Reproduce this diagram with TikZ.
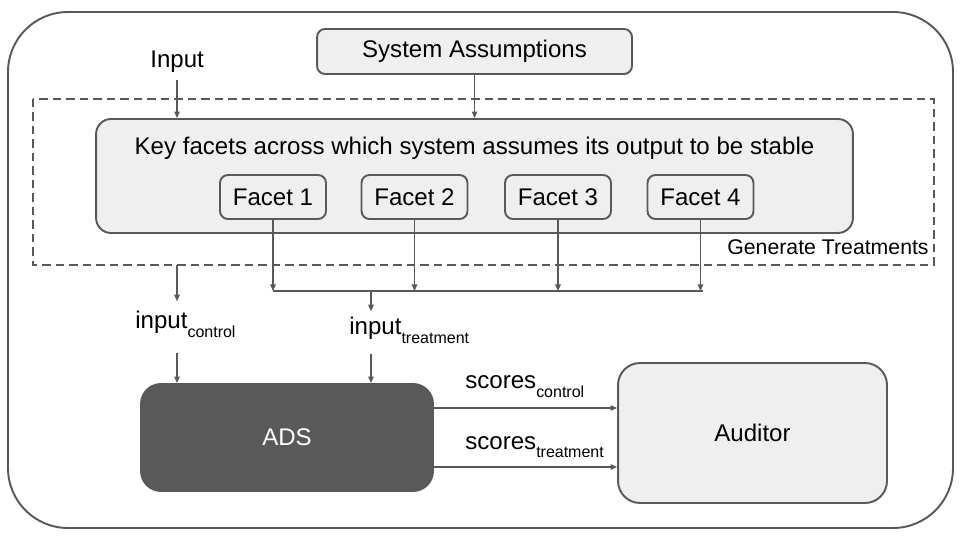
\documentclass[tikz,border=0pt]{standalone}
\usepackage{fontspec}
\setmainfont{Liberation Sans}
\usepackage{tikz}
\usetikzlibrary{arrows.meta}
\definecolor{edge}{HTML}{595959}
\definecolor{boxfill}{HTML}{EFEFEF}
\newcommand{\lowsub}[1]{\raisebox{-5.1pt}{\fontsize{9.1}{10}\selectfont #1}}

\begin{document}
\begin{tikzpicture}[x=0.02cm, y=-0.02cm,
  font=\fontsize{13.7}{16}\selectfont,
  box/.style={draw=edge, line width=1.1pt, fill=boxfill, rounded corners=0.16cm},
  facet/.style={box, minimum width=2.12cm, minimum height=0.88cm},
  lbl/.style={anchor=base west, inner sep=0pt},
  arr/.style={draw=edge, line width=0.6pt, -{Triangle[length=0.13cm, width=0.11cm]}}]
\useasboundingbox (0,0) rectangle (960,540);
\draw[edge, line width=1.1pt, rounded corners=1.2cm] (8,12) rectangle (953,528);
\node[box, minimum width=6.3cm, minimum height=0.9cm] (sa) at (474.5,51.5) {System Assumptions};
\node[lbl] (inp) at (150,68) {Input};
\draw[edge, line width=1.1pt, dash pattern=on 0.17cm off 0.1cm] (33,99) rectangle (934,265);
\node[box, rounded corners=0.3cm, minimum width=15.14cm, minimum height=2.28cm] (key) at (474.5,176) {};
\node (keytxt) at (474.5,148) {Key facets across which system assumes its output to be stable};
\node[facet] (f1) at (273,197) {Facet 1};
\node[facet] (f2) at (414.5,197) {Facet 2};
\node[facet] (f3) at (558,197) {Facet 3};
\node[facet] (f4) at (700.5,197) {Facet 4};
\node[lbl, font=\fontsize{12.1}{14}\selectfont] (gen) at (727,255) {Generate Treatments};
\node[lbl] (inc) at (135,329) {input\lowsub{control}};
\node[lbl] (intr) at (349,335) {input\lowsub{treatment}};
\node[box, fill=edge, rounded corners=0.4cm, minimum width=5.84cm, minimum height=2.14cm, text=white] (ads) at (287,437.5) {ADS};
\node[box, rounded corners=0.44cm, minimum width=5.38cm, minimum height=2.8cm] (aud) at (752.5,433) {Auditor};
\node[lbl] (sc) at (465,389) {scores\lowsub{control}};
\node[lbl] (st) at (465,449) {scores\lowsub{treatment}};
\coordinate (inpx) at (177,80);
\coordinate (ctl) at (177,265);
\coordinate (barL) at (273,291);
\coordinate (barR) at (703,291);
\coordinate (tj) at (371,291);
\coordinate (s1) at (433,408);
\coordinate (s2) at (433,467);

\draw[arr] (inpx) -- (inpx |- key.north);
\draw[arr] (sa.south) -- (key.north);
\foreach \f in {f1,f2,f3,f4}
  \draw[arr] (\f.south) -- (\f.south |- barL);
\draw[edge, line width=0.6pt] (barL) -- (barR);
\draw[arr] (tj) -- ([yshift=0.12cm]tj |- intr.north);
\draw[arr] ([yshift=-0.2cm]tj |- intr.south) -- (tj |- ads.north);
\draw[arr] (ctl) -- ([yshift=0.2cm]ctl |- inc.north);
\draw[arr] ([yshift=-0.3cm]ctl |- inc.south) -- (ctl |- ads.north);
\draw[arr] (s1) -- (s1 -| aud.west);
\draw[arr] (s2) -- (s2 -| aud.west);
\end{tikzpicture}
\end{document}
